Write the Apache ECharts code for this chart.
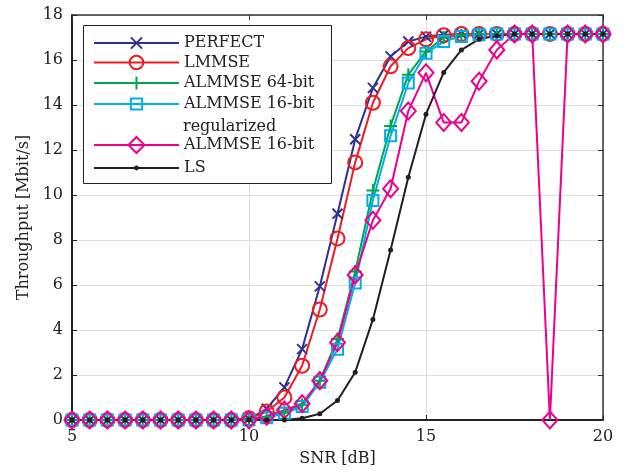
<!DOCTYPE html>
<html>
<head>
<meta charset="utf-8">
<script src="https://cdn.jsdelivr.net/npm/echarts@6/dist/echarts.min.js"></script>
<style>html,body{margin:0;padding:0;background:#fff}#c{width:627px;height:472px}</style>
</head>
<body>
<div id="c"></div>
<script>
const snr = [5,5.5,6,6.5,7,7.5,8,8.5,9,9.5,10,10.5,11,11.5,12,12.5,13,13.5,14,14.5,15,15.5,16,16.5,17,17.5,18,18.5,19,19.5,20];
const perfect = [0,0,0,0,0,0,0,0,0,0,0.05,0.5,1.45,3.15,5.94,9.17,12.48,14.76,16.16,16.82,17.04,17.12,17.16,17.16,17.16,17.16,17.16,17.16,17.16,17.16,17.16];
const lmmse   = [0,0,0,0,0,0,0,0,0,0,0.08,0.38,1.0,2.41,4.91,8.07,11.45,14.1,15.72,16.53,16.92,17.1,17.16,17.16,17.16,17.16,17.16,17.16,17.16,17.16,17.16];
const almmse64 = [0,0,0,0,0,0,0,0,0,0,0,0.12,0.35,0.68,1.75,3.6,6.6,10.2,13.07,15.35,16.38,17.0,17.1,17.16,17.16,17.16,17.16,17.16,17.16,17.16,17.16];
const almmse16reg = [0,0,0,0,0,0,0,0,0,0,0,0.1,0.3,0.6,1.68,3.15,6.09,9.76,12.63,14.98,16.3,16.82,17.05,17.12,17.16,17.16,17.16,17.16,17.16,17.16,17.16];
const almmse16 = [0,0,0,0,0,0,0,0,0,0,0,0.17,0.44,0.72,1.75,3.44,6.45,8.88,10.28,13.73,15.43,13.22,13.22,15.06,16.45,17.16,17.16,0,17.16,17.16,17.16];
const ls = [0,0,0,0,0,0,0,0,0,0,0,0,0,0.08,0.28,0.87,2.12,4.47,7.56,10.79,13.59,15.45,16.45,16.93,17.08,17.16,17.16,17.16,17.16,17.16,17.16];
const names = ['PERFECT','LMMSE','ALMMSE 64-bit','ALMMSE 16-bit regularized','ALMMSE 16-bit','LS'];
const xTicks = [5,10,15,20];

const FONT = 'DejaVu Serif';
const TXT = '#222';
const pairs = arr => snr.map((x,i)=>[x,arr[i]]);

function mk(name, arr, color, symbol, size, filled, bw) {
  return {
    name, type:'line', data: pairs(arr), xAxisIndex:0, yAxisIndex:0,
    symbol, symbolSize:size, showSymbol:true, clip:false, animation:false,
    lineStyle:{color, width:2},
    itemStyle:{color: filled ? color : 'transparent', borderColor: color, borderWidth: bw},
    emphasis:{disabled:true}
  };
}
const series = [
  mk(names[0], perfect, '#2e3192', 'path://M0,0L10,10M10,0L0,10', 10, false, 2),
  mk(names[1], lmmse, '#ed1c24', 'circle', 14, false, 2),
  mk(names[2], almmse64, '#00a651', 'path://M5,0L5,10M0,5L10,5', 13, false, 2),
  mk(names[3], almmse16reg, '#00aeef', 'rect', 11, false, 2),
  mk(names[4], almmse16, '#ec008c', 'diamond', [15,17], false, 2),
  mk(names[5], ls, '#231f20', 'circle', 5, true, 0)
];

const legendY = [43,63,83,104,146,168];
const legendH = [14,17,16,14,20,6];
const legends = names.map((n,i)=>({
  data:[n], left:93, top:legendY[i]-Math.max(legendH[i],16)/2, padding:0, itemWidth:85, itemHeight:legendH[i],
  selectedMode:false, orient:'vertical',
  formatter: s => s === 'ALMMSE 16-bit regularized' ? 'ALMMSE 16-bit' : s,
  textStyle:{fontFamily:FONT, fontSize:16, color:TXT, lineHeight:16}
}));

const chart = echarts.init(document.getElementById('c'), null, {renderer:'canvas'});
chart.setOption({
  animation:false,
  backgroundColor:'#fff',
  grid:{left:72, right:24, top:15, bottom:49, containLabel:false},
  xAxis:[{
    type:'value', min:5, max:20, interval:5,
    name:'SNR [dB]', nameLocation:'middle', nameGap:31,
    nameTextStyle:{fontFamily:FONT, fontSize:16, color:TXT},
    axisLine:{show:true, onZero:false, lineStyle:{color:'#222', width:2}},
    axisTick:{show:true, inside:true, length:5, lineStyle:{color:'#222'}},
    axisLabel:{fontFamily:FONT, fontSize:16, color:TXT, margin:9, formatter: v => xTicks.includes(v) ? String(v) : ''},
    splitLine:{show:true, lineStyle:{color:'#dedede', width:1}}
  },{
    type:'value', min:5, max:20, interval:5, position:'top',
    axisLine:{show:true, onZero:false, lineStyle:{color:'#333', width:1.5}},
    axisTick:{show:true, inside:true, length:5, lineStyle:{color:'#333'}},
    axisLabel:{show:false}, splitLine:{show:false}
  }],
  yAxis:[{
    type:'value', min:0, max:18, interval:2,
    name:'Throughput [Mbit/s]', nameLocation:'middle', nameGap:37, nameRotate:90,
    nameTextStyle:{fontFamily:FONT, fontSize:16, color:TXT},
    axisLine:{show:true, onZero:false, lineStyle:{color:'#222', width:2}},
    axisTick:{show:true, inside:true, length:5, lineStyle:{color:'#222'}},
    axisLabel:{fontFamily:FONT, fontSize:16, color:TXT, margin:9},
    splitLine:{show:true, lineStyle:{color:'#dedede', width:1}}
  },{
    type:'value', min:0, max:18, interval:2, position:'right',
    axisLine:{show:true, onZero:false, lineStyle:{color:'#333', width:1.5}},
    axisTick:{show:true, inside:true, length:5, lineStyle:{color:'#333'}},
    axisLabel:{show:false}, splitLine:{show:false}
  }],
  legend: legends,
  graphic:[
    {type:'rect', z:3, shape:{x:83.5, y:25.5, width:248, height:158}, style:{fill:'#fff', stroke:'#222', lineWidth:1}},
    {type:'text', z:5, left:183, top:119, style:{text:'regularized', font:'16px "DejaVu Serif"', fill:TXT}}
  ],
  series
});
</script>
</body>
</html>
